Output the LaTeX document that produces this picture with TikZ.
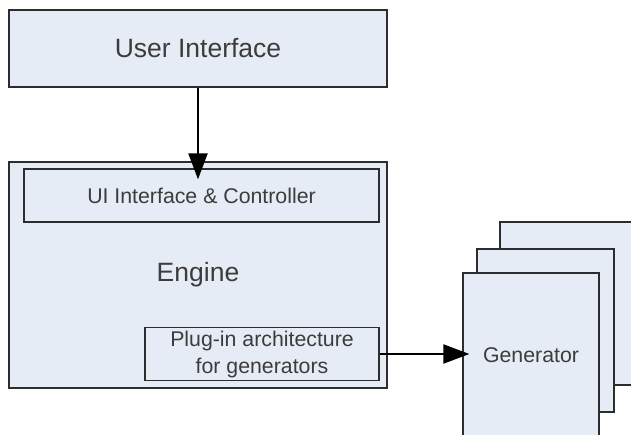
\documentclass[tikz,border=0pt]{standalone}
\usepackage{fontspec}
\setmainfont{Liberation Sans}
\usetikzlibrary{arrows.meta}
\definecolor{boxfill}{RGB}{230,236,246}
\definecolor{boxline}{RGB}{45,45,45}
\definecolor{boxtext}{RGB}{60,60,60}
\tikzset{
    block/.style={draw=boxline, line width=1.3pt, fill=boxfill, text=boxtext, inner sep=0pt, align=center},
    flow/.style={line width=2.2pt, -{Triangle[length=26pt,width=19pt]}}
}

\begin{document}
\begin{tikzpicture}[x=1pt, y=-1pt]
    \useasboundingbox (0,0) rectangle (631,434);
    \clip (0,0) rectangle (631,434);

    \node[block, minimum width=378pt, minimum height=77pt, font=\fontsize{26.5}{31}\selectfont] (ui) at (198,48.5) {User Interface};

    \node[block, minimum width=378pt, minimum height=226pt, font=\fontsize{26.5}{31}\selectfont] (engine) at (198,275) {Engine};
    \node[block, minimum width=355pt, minimum height=53pt, font=\fontsize{21.3}{27}\selectfont] (ctrl) at (201.5,195.5) {UI Interface \& Controller};
    \node[block, minimum width=234pt, minimum height=53pt, font=\fontsize{21.3}{27}\selectfont] (plugin) at (262,354) {Plug-in architecture\\for generators};

    \node[block, minimum width=137pt, minimum height=163pt] (gen3) at (568.5,303.5) {};
    \node[block, minimum width=137pt, minimum height=163pt] (gen2) at (545.5,330.5) {};
    \node[block, minimum width=136pt, minimum height=164pt, font=\fontsize{21.3}{27}\selectfont] (gen) at (531,355) {Generator};

    \draw[flow] (ui.south) -- ([yshift=-11pt]ui.south |- ctrl.north);
    \draw[flow] (plugin.east) -- ([xshift=7pt]gen.west |- plugin.east);

\end{tikzpicture}
\end{document}
